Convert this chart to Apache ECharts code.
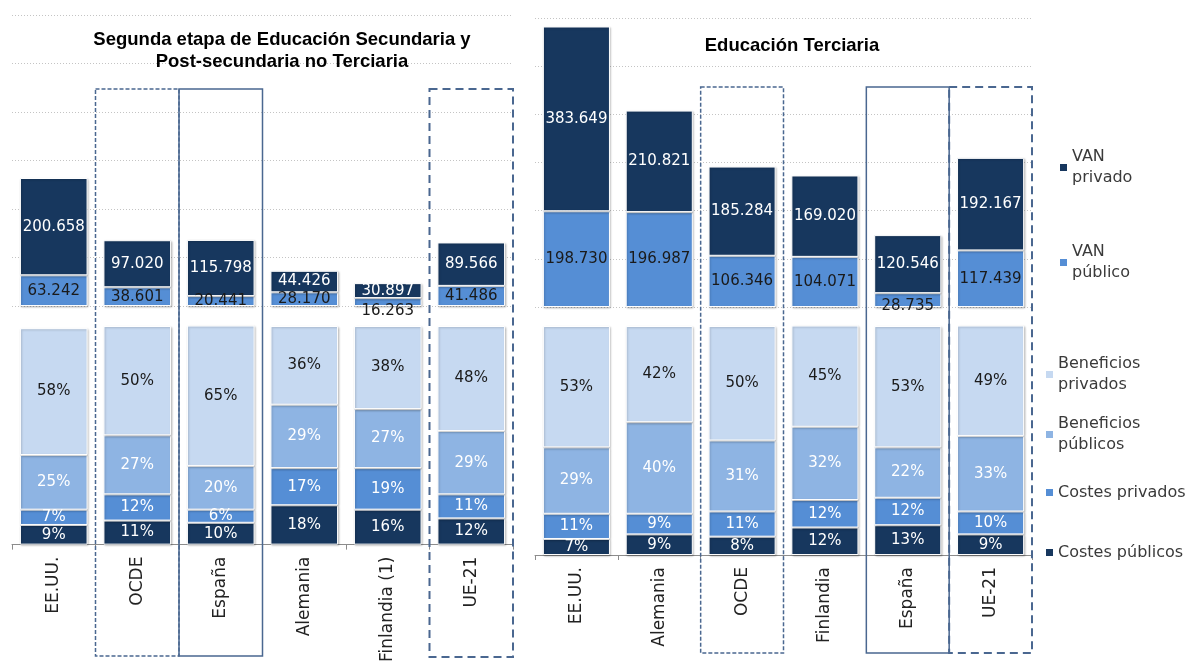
<!DOCTYPE html>
<html>
<head>
<meta charset="utf-8">
<script src="https://cdn.jsdelivr.net/npm/echarts@6/dist/echarts.min.js"></script>
<style>
  html, body { margin: 0; padding: 0; background: #fff; }
  #chart { width: 1192px; height: 665px; }
</style>
</head>
<body>
<div id="chart"></div>
<script>
// Segunda etapa de Educación Secundaria y Post-secundaria no Terciaria
const catsSec = ['EE.UU.', 'OCDE', 'España', 'Alemania', 'Finlandia (1)', 'UE-21']
const vanPubSec = [63242, 38601, 20441, 28170, 16263, 41486]
const vanPrivSec = [200658, 97020, 115798, 44426, 30897, 89566]
const costPubSec = [9, 11, 10, 18, 16, 12]
const costPrivSec = [7, 12, 6, 17, 19, 11]
const benPubSec = [25, 27, 20, 29, 27, 29]
const benPrivSec = [58, 50, 65, 36, 38, 48]

// Educación Terciaria
const catsTer = ['EE.UU.', 'Alemania', 'OCDE', 'Finlandia', 'España', 'UE-21']
const vanPubTer = [198730, 196987, 106346, 104071, 28735, 117439]
const vanPrivTer = [383649, 210821, 185284, 169020, 120546, 192167]
const costPubTer = [7, 9, 8, 12, 13, 9]
const costPrivTer = [11, 9, 11, 12, 12, 10]
const benPubTer = [29, 40, 31, 32, 22, 33]
const benPrivTer = [53, 42, 50, 45, 53, 49]

const vanMax = 600000
const vanStep = 100000

const COLORS = {
  navy: '#17375e',
  mid: '#558ed5',
  light: '#8eb4e3',
  pale: '#c6d9f1',
  box: '#4a6790',
}

const FONT = 'DejaVu Sans'
const GRID_W = [501, 497]
const GRID_L = [12, 535]

const fmtK = (v) => String(v).replace(/\B(?=(\d{3})+(?!\d))/g, '.')

const barStyle = (color) => ({
  color: color,
  borderColor: '#fff',
  borderWidth: 1,
  shadowColor: 'rgba(0,0,0,0.22)',
  shadowBlur: 2,
  shadowOffsetX: 1,
  shadowOffsetY: 1,
})

function labelOf(color, fmt) {
  return {
    show: true,
    position: 'inside',
    color: color,
    fontFamily: FONT,
    fontSize: 15,
    formatter: (p) => fmt(p.value),
  }
}

function vanSeries(idx, pub, priv, stack) {
  const pubData = pub.map((v) => {
    if (v === 16263) return { value: v, label: { offset: [0, 9] } }
    if (v === 28735) return { value: v, label: { offset: [0, 6] } }
    return v
  })
  return [
    {
      name: 'VAN público', type: 'bar', stack: stack, xAxisIndex: idx, yAxisIndex: idx,
      barCategoryGap: '19%', data: pubData, itemStyle: barStyle(COLORS.mid),
      label: labelOf('#1a1a1a', fmtK),
    },
    {
      name: 'VAN privado', type: 'bar', stack: stack, xAxisIndex: idx, yAxisIndex: idx,
      barCategoryGap: '19%', data: priv, itemStyle: barStyle(COLORS.navy),
      label: labelOf('#fff', fmtK),
    },
  ]
}

function pctSeries(idx, cPub, cPriv, bPub, bPriv, stack) {
  const pct = (v) => v + '%'
  const mk = (name, data, color, txt) => ({
    name: name, type: 'bar', stack: stack, xAxisIndex: idx, yAxisIndex: idx,
    barCategoryGap: '19%', data: data, itemStyle: barStyle(color),
    label: labelOf(txt, pct),
  })
  return [
    mk('Costes públicos', cPub, COLORS.navy, '#fff'),
    mk('Costes privados', cPriv, COLORS.mid, '#fff'),
    mk('Beneficios públicos', bPub, COLORS.light, '#fff'),
    mk('Beneficios privados', bPriv, COLORS.pale, '#1a1a1a'),
  ]
}

const topX = (cats, grid) => ({
  type: 'category', gridIndex: grid, data: cats, show: false,
})
const bottomX = (cats, grid) => ({
  type: 'category', gridIndex: grid, data: cats,
  axisLine: { lineStyle: { color: '#8c8c8c', width: 1 } },
  axisTick: { show: true, length: 5, lineStyle: { color: '#8c8c8c' } },
  axisLabel: { rotate: 90, margin: 12, color: '#222', fontFamily: FONT, fontSize: 17, interval: 0 },
})
const vanY = (grid) => ({
  type: 'value', gridIndex: grid, min: 0, max: vanMax, interval: vanStep,
  axisLine: { show: false }, axisTick: { show: false }, axisLabel: { show: false },
  splitLine: { show: true, lineStyle: { color: '#c4c4c4', type: [1, 2], width: 1 } },
})
const pctY = (grid) => ({
  type: 'value', gridIndex: grid, min: 0, max: 100, show: false,
  splitLine: { show: false },
})

const legendText = { color: '#3a3a3a', fontFamily: FONT, fontSize: 16, lineHeight: 21 }
const twoLine = Object.assign({}, legendText, { padding: [21, 0, 0, 0] })
const splitName = (n) => n.replace(' ', '\n')
const legendItem = (name, left, top, two) => ({
  data: [name], left: left, top: top, padding: 0,
  icon: 'rect', itemWidth: 7, itemHeight: 7,
  itemStyle: { borderWidth: 0, shadowBlur: 0, shadowOffsetX: 0, shadowOffsetY: 0 },
  selectedMode: false,
  formatter: two ? splitName : (n) => n,
  textStyle: two ? twoLine : legendText,
})

const chart = echarts.init(document.getElementById('chart'))

const option = {
  animation: false,
  backgroundColor: '#fff',
  grid: [
    { left: GRID_L[0], top: 15, width: GRID_W[0], height: 291 },
    { left: GRID_L[0], top: 326, width: GRID_W[0], height: 229 },
    { left: GRID_L[1], top: 18, width: GRID_W[1], height: 289 },
    { left: GRID_L[1], top: 326, width: GRID_W[1], height: 229 },
  ],
  xAxis: [topX(catsSec, 0), bottomX(catsSec, 1), topX(catsTer, 2), bottomX(catsTer, 3)],
  yAxis: [vanY(0), pctY(1), vanY(2), pctY(3)],
  legend: [
    legendItem('VAN privado', 1060, 136, true),
    legendItem('VAN público', 1060, 231, true),
    legendItem('Beneficios privados', 1046, 343, true),
    legendItem('Beneficios públicos', 1046, 403, true),
    legendItem('Costes privados', 1046, 482, false),
    legendItem('Costes públicos', 1046, 542, false),
  ],
  series: [
    ...vanSeries(0, vanPubSec, vanPrivSec, 'vanSec'),
    ...pctSeries(1, costPubSec, costPrivSec, benPubSec, benPrivSec, 'pctSec'),
    ...vanSeries(2, vanPubTer, vanPrivTer, 'vanTer'),
    ...pctSeries(3, costPubTer, costPrivTer, benPubTer, benPrivTer, 'pctTer'),
  ],
}

chart.setOption(option)

// titles and highlight boxes
const titleStyle = (text) => ({
  text: text, fill: '#000', fontFamily: 'Liberation Sans', fontWeight: 'bold', fontSize: 18.5,
  lineHeight: 22, align: 'center', textAlign: 'center', verticalAlign: 'top', textVerticalAlign: 'top',
})

const boxes = [
  { axis: 1, cats: catsSec, cat: 'OCDE', dash: [4, 2], width: 1.5, top: 89, bottom: 656 },
  { axis: 1, cats: catsSec, cat: 'España', dash: null, width: 1.5, top: 89, bottom: 656 },
  { axis: 1, cats: catsSec, cat: 'UE-21', dash: [8, 5], width: 2, top: 89, bottom: 657 },
  { axis: 3, cats: catsTer, cat: 'OCDE', dash: [4, 2], width: 1.5, top: 87, bottom: 653 },
  { axis: 3, cats: catsTer, cat: 'España', dash: null, width: 1.5, top: 87, bottom: 653 },
  { axis: 3, cats: catsTer, cat: 'UE-21', dash: [8, 5], width: 2, top: 87, bottom: 653 },
]

const graphic = [
  { type: 'text', x: 282, y: 29, z: 100, style: titleStyle('Segunda etapa de Educación Secundaria y\nPost-secundaria no Terciaria') },
  { type: 'text', x: 792, y: 35, z: 100, style: titleStyle('Educación Terciaria') },
]

boxes.forEach((b) => {
  const band = GRID_W[b.axis === 1 ? 0 : 1] / b.cats.length
  const cx = chart.convertToPixel({ xAxisIndex: b.axis }, b.cat)
  graphic.push({
    type: 'rect', z: 100, silent: true,
    shape: { x: cx - band / 2, y: b.top, width: band, height: b.bottom - b.top },
    style: { fill: 'none', stroke: COLORS.box, lineWidth: b.width, lineDash: b.dash },
  })
})

chart.setOption({ graphic: graphic })
</script>
</body>
</html>
